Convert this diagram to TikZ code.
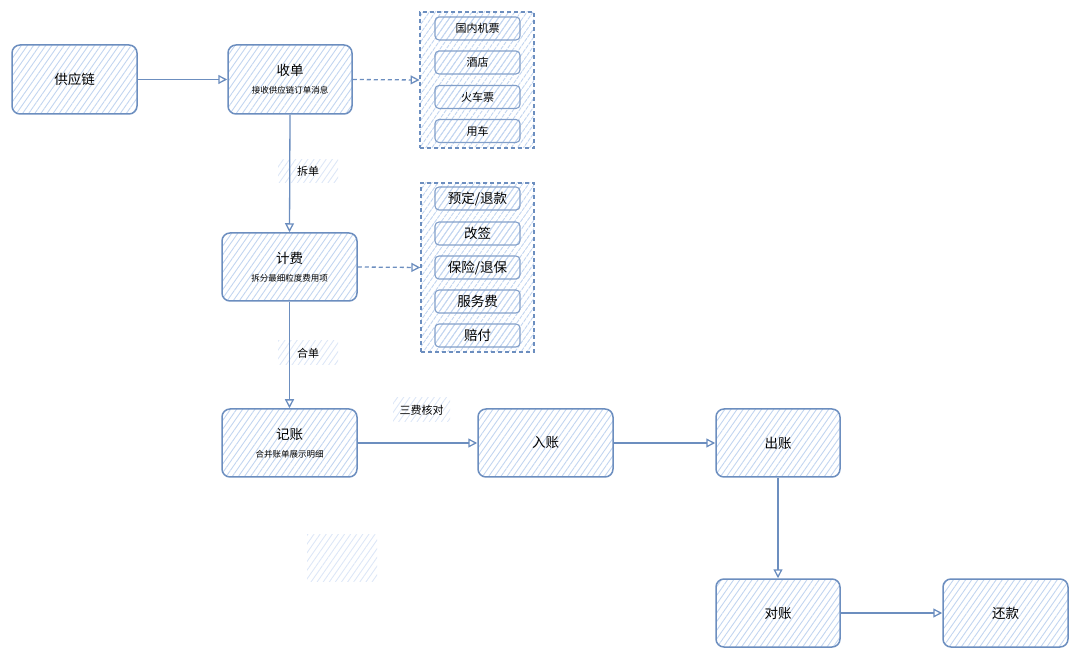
\documentclass[tikz,border=0pt]{standalone}
\usepackage{fontspec}
\setmainfont{Noto Sans CJK SC}
\usetikzlibrary{arrows.meta,patterns.meta}
\definecolor{edge}{HTML}{6C8EBF}
\definecolor{hatch}{HTML}{C2D5F0}
\definecolor{hatchlight}{HTML}{DDE7F7}
\tikzset{
  hatched/.style={pattern={Lines[angle=55,distance=5pt,line width=0.9pt]},pattern color=hatch},
  box/.style={draw=edge,line width=1.5pt,rounded corners=8pt,hatched,align=center,inner sep=0pt,font=\fontsize{13.5}{16}\selectfont},
  item/.style={draw=edge!85,line width=1.1pt,rounded corners=4pt,hatched,inner sep=0pt,minimum width=85pt,minimum height=23pt,font=\fontsize{11}{13}\selectfont},
  itemb/.style={item,font=\fontsize{13.5}{15}\selectfont},
  grp/.style={draw=edge,line width=1.3pt,dash pattern=on 4pt off 3pt,hatched,inner sep=0pt},
  lbl/.style={pattern={Lines[angle=55,distance=5pt,line width=0.9pt]},pattern color=hatchlight,inner sep=0pt,font=\fontsize{11}{13}\selectfont},
  conn/.style={draw=edge,line width=1.3pt,-{Triangle[open,length=9pt,width=9pt]}},
  dconn/.style={conn,dash pattern=on 4pt off 3pt},
}
\begin{document}
\begin{tikzpicture}[x=1pt,y=-1pt]
\useasboundingbox (0,0) rectangle (1080,660);
% groups
\node[grp,minimum width=114pt,minimum height=136pt] (g1) at (477,80) {};
\node[grp,minimum width=113pt,minimum height=169pt] (g2) at (477.5,267.5) {};
% items
\node[item] (i1) at (477.5,28.5) {国内机票};
\node[item] (i2) at (477.5,62.5) {酒店};
\node[item] (i3) at (477.5,97) {火车票};
\node[item] (i4) at (477.5,131) {用车};
\node[itemb] (j1) at (477.5,198.5) {预定/退款};
\node[itemb] (j2) at (477.5,233.5) {改签};
\node[itemb] (j3) at (477.5,267.5) {保险/退保};
\node[itemb] (j4) at (477.5,301.5) {服务费};
\node[itemb] (j5) at (477.5,335.5) {赔付};
% main boxes
\node[box,minimum width=125pt,minimum height=69pt] (gyl) at (74.5,79.5) {供应链};
\node[box,minimum width=124pt,minimum height=69pt] (sd) at (290,79.5) {收单\\[2pt]{\fontsize{8.5}{10}\selectfont 接收供应链订单消息}};
\node[box,minimum width=135pt,minimum height=68pt] (jf) at (289.5,267) {计费\\[2pt]{\fontsize{8.5}{10}\selectfont 拆分最细粒度费用项}};
\node[box,minimum width=135pt,minimum height=68pt] (jz) at (289.5,443) {记账\\[2pt]{\fontsize{8.5}{10}\selectfont 合并账单展示明细}};
\node[box,minimum width=135pt,minimum height=68pt] (rz) at (545.5,443) {入账};
\node[box,minimum width=124pt,minimum height=68pt] (cz) at (778,443) {出账};
\node[box,minimum width=124pt,minimum height=68pt] (dz) at (778,613) {对账};
\node[box,minimum width=125pt,minimum height=68pt] (hk) at (1005.5,613) {还款};
% labels
\node[lbl,minimum width=60pt,minimum height=23pt] (l1) at (308,171.5) {拆单};
\node[lbl,minimum width=60pt,minimum height=24pt] (l2) at (308,353) {合单};
\node[lbl,minimum width=57pt,minimum height=24pt] (l3) at (421.5,410) {三费核对};
\node[lbl,minimum width=70pt,minimum height=47pt] (l4) at (342,557.5) {};
% connectors
\draw[conn] (gyl.east) -- (sd.west);
\draw[dconn] (sd.east) -- (g1.west);
\draw[conn] (sd.south) -- (jf.north);
\draw[dconn] (jf.east) -- (g2.west);
\draw[conn] (jf.south) -- (jz.north);
\draw[conn] (jz.east) -- (rz.west);
\draw[conn] (rz.east) -- (cz.west);
\draw[conn] (cz.south) -- (dz.north);
\draw[conn] (dz.east) -- (hk.west);
\end{tikzpicture}
\end{document}
